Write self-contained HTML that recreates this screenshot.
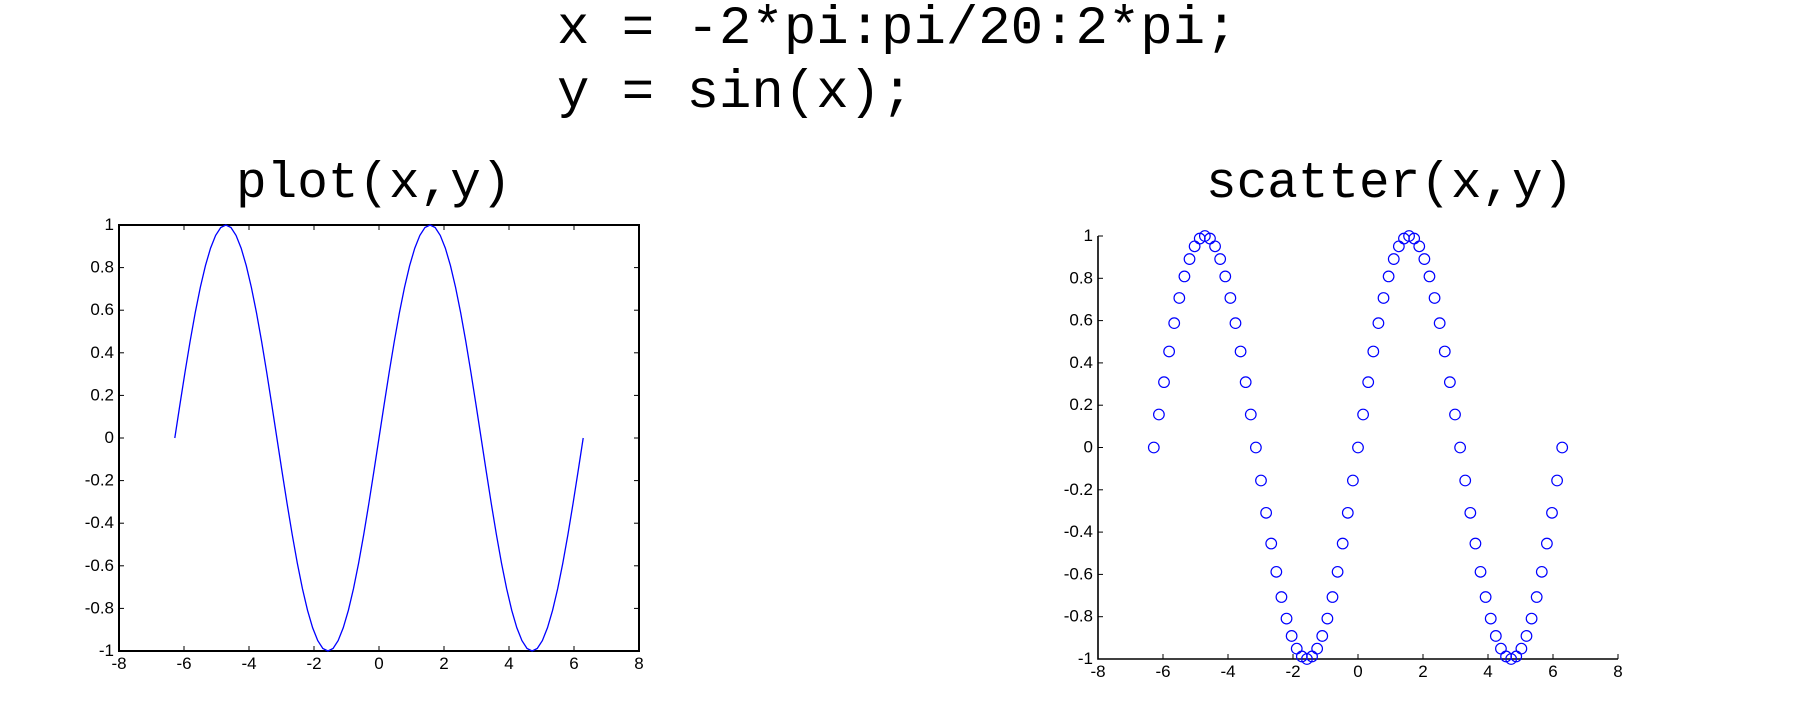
<!DOCTYPE html>
<html><head><meta charset="utf-8">
<style>
html,body{margin:0;padding:0;background:#fff;width:1800px;height:707px;overflow:hidden}
svg{display:block}
.code{font-family:"Liberation Mono",monospace;font-size:54px;fill:#000}
.title{font-family:"Liberation Mono",monospace;font-size:51px;fill:#000}
.tick{font-family:"Liberation Sans",sans-serif;font-size:17px;fill:#000}
</style></head>
<body>
<svg id="fig" width="1800" height="707" viewBox="0 0 1800 707">
<text class="code" x="557" y="43" xml:space="preserve">x = -2*pi:pi/20:2*pi;</text>
<text class="code" x="557" y="107" xml:space="preserve">y = sin(x);</text>
<text class="title" x="236" y="197">plot(x,y)</text>
<text class="title" x="1206" y="197">scatter(x,y)</text>
<g id="left"></g>
<g id="right"></g>
</svg>
<script>
const xValues = [-6.283,-6.126,-5.969,-5.812,-5.655,-5.498,-5.341,-5.184,-5.027,-4.869,-4.712,-4.555,-4.398,-4.241,-4.084,-3.927,-3.770,-3.613,-3.456,-3.299,-3.142,-2.985,-2.827,-2.670,-2.513,-2.356,-2.199,-2.042,-1.885,-1.728,-1.571,-1.414,-1.257,-1.100,-0.942,-0.785,-0.628,-0.471,-0.314,-0.157,0,0.157,0.314,0.471,0.628,0.785,0.942,1.100,1.257,1.414,1.571,1.728,1.885,2.042,2.199,2.356,2.513,2.670,2.827,2.985,3.142,3.299,3.456,3.613,3.770,3.927,4.084,4.241,4.398,4.555,4.712,4.869,5.027,5.184,5.341,5.498,5.655,5.812,5.969,6.126,6.283];
const yValues = [0,0.156,0.309,0.454,0.588,0.707,0.809,0.891,0.951,0.988,1,0.988,0.951,0.891,0.809,0.707,0.588,0.454,0.309,0.156,0,-0.156,-0.309,-0.454,-0.588,-0.707,-0.809,-0.891,-0.951,-0.988,-1,-0.988,-0.951,-0.891,-0.809,-0.707,-0.588,-0.454,-0.309,-0.156,0,0.156,0.309,0.454,0.588,0.707,0.809,0.891,0.951,0.988,1,0.988,0.951,0.891,0.809,0.707,0.588,0.454,0.309,0.156,0,-0.156,-0.309,-0.454,-0.588,-0.707,-0.809,-0.891,-0.951,-0.988,-1,-0.988,-0.951,-0.891,-0.809,-0.707,-0.588,-0.454,-0.309,-0.156,0];
const xTicks = [-8,-6,-4,-2,0,2,4,6,8];
const yTicks = [1,0.8,0.6,0.4,0.2,0,-0.2,-0.4,-0.6,-0.8,-1];
const xTickLabels = ["-8","-6","-4","-2","0","2","4","6","8"];
const yTickLabels = ["1","0.8","0.6","0.4","0.2","0","-0.2","-0.4","-0.6","-0.8","-1"];

const NS = "http://www.w3.org/2000/svg";
function mk(tag, attrs, parent){
  const e = document.createElementNS(NS, tag);
  for (const k in attrs) e.setAttribute(k, attrs[k]);
  parent.appendChild(e);
  return e;
}
function axes(g, L, R, T, B, box){
  const sx = v => L + (v + 8) / 16 * (R - L);
  const sy = v => T + (1 - v) / 2 * (B - T);
  const stroke = {stroke:"#000","stroke-width":box?2:1.6,fill:"none"};
  if (box){
    const r = mk("rect", Object.assign({x:L,y:T,width:R-L,height:B-T}, stroke), g);
    
    
  } else {
    const a = mk("path", Object.assign({d:`M${L},${T}V${B}H${R}`}, stroke), g);
    
    
  }
  xTicks.forEach((v,i) => {
    const x = sx(v);
    mk("line",{x1:x,x2:x,y1:B,y2:B-5,stroke:"#000","stroke-width":1},g);
    if (box) mk("line",{x1:x,x2:x,y1:T,y2:T+5,stroke:"#000","stroke-width":1},g);
    const t = mk("text",{x:x,y:B+18,"text-anchor":"middle",class:"tick"},g);
    t.textContent = xTickLabels[i];
    
    
  });
  yTicks.forEach((v,i) => {
    const y = sy(v);
    mk("line",{x1:L,x2:L+5,y1:y,y2:y,stroke:"#000","stroke-width":1},g);
    if (box) mk("line",{x1:R,x2:R-5,y1:y,y2:y,stroke:"#000","stroke-width":1},g);
    const t = mk("text",{x:L-5,y:y+5,"text-anchor":"end",class:"tick"},g);
    t.textContent = yTickLabels[i];
    
    
  });
  return {sx, sy};
}
const left = document.getElementById("left");
const A = axes(left, 119, 639, 225, 651, true);
let d = "";
xValues.forEach((x,i) => { d += (i ? "L" : "M") + A.sx(x).toFixed(2) + "," + A.sy(yValues[i]).toFixed(2); });
const line = mk("path",{d:d,stroke:"#0000ff","stroke-width":1.3,fill:"none"},left);



const right = document.getElementById("right");
const B = axes(right, 1098, 1618, 236, 659, false);
xValues.forEach((x,i) => {
  const c = mk("circle",{cx:B.sx(x),cy:B.sy(yValues[i]),r:5.3,stroke:"#0000ff","stroke-width":1.2,fill:"none"},right);
  
  
});
</script>
</body></html>
